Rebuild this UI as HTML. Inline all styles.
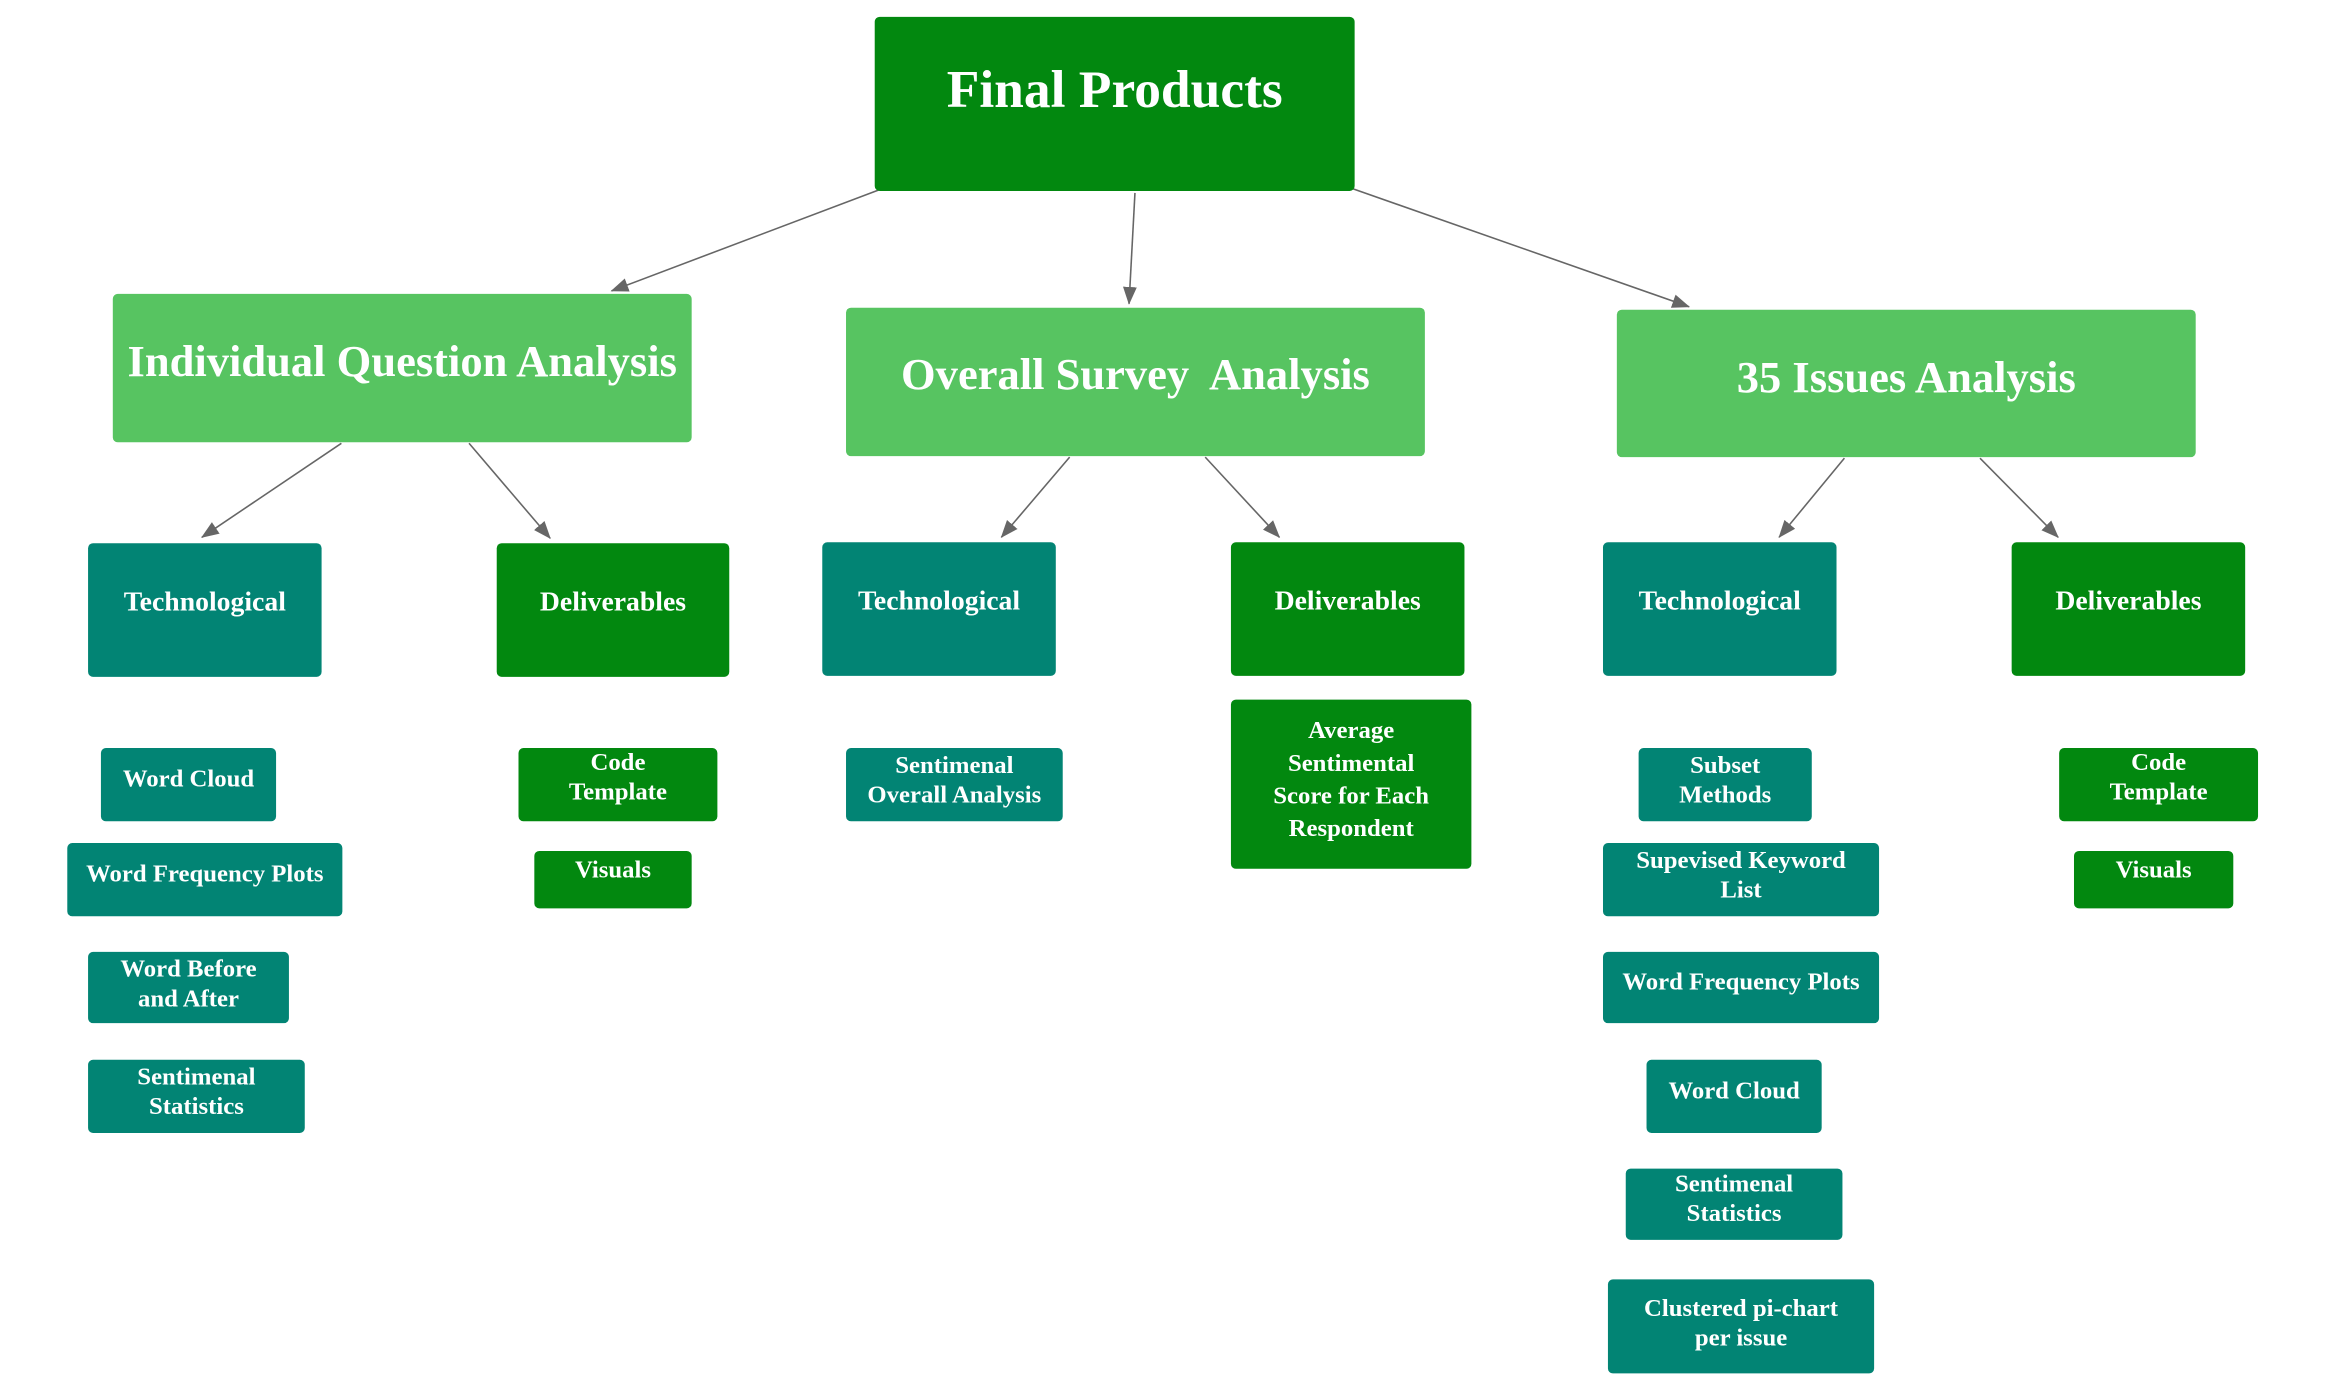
<!DOCTYPE html>
<html><head><meta charset="utf-8"><style>
body{margin:0;width:2328px;height:1398px;background:#fff;position:relative;overflow:hidden;font-family:"Liberation Serif",serif;font-weight:bold;color:#fff}
#w{position:absolute;left:0;top:0;width:2328px;height:1398px;transform:scale(0.9895);transform-origin:0 0}
.b{position:absolute;box-sizing:border-box;border-radius:5px;text-align:center;white-space:nowrap}
.dg{background:#02880f}.lg{background:#57c461}.tl{background:#028474}
.t{font-size:45px;line-height:50px}
.m{font-size:28px;line-height:30px;padding-top:45px}
.l{font-size:25px;line-height:30px}
svg{position:absolute;left:0;top:0}
</style></head><body><div id="w">
<svg width="2328" height="1398"><defs>
<marker id="a2" markerWidth="18" markerHeight="18" refX="17" refY="9" orient="auto" markerUnits="userSpaceOnUse" viewBox="0 0 18 18"><path d="M0,2 L18,9 L0,16 z" fill="#666"/></marker></defs>
<g stroke="#666" stroke-width="1.6" fill="none" marker-end="url(#a2)">
<line x1="888" y1="192" x2="618" y2="294"/>
<line x1="1147" y1="195" x2="1141" y2="307"/>
<line x1="1365" y1="190" x2="1707" y2="310"/>
<line x1="345" y1="448" x2="204" y2="543"/>
<line x1="474" y1="448" x2="556" y2="544"/>
<line x1="1081" y1="462" x2="1012" y2="543"/>
<line x1="1218" y1="462" x2="1293" y2="543"/>
<line x1="1864" y1="463" x2="1798" y2="543"/>
<line x1="2001" y1="463" x2="2080" y2="543"/>
</g></svg>
<div class="b dg" style="left:884px;top:17px;width:485px;height:176px;font-size:54px;line-height:60px;padding-top:43px">Final Products</div>
<div class="b lg t" style="left:114px;top:297px;width:585px;height:150px;padding-top:43px">Individual Question Analysis</div>
<div class="b lg t" style="left:855px;top:311px;width:585px;height:150px;padding-top:42px">Overall Survey&nbsp; Analysis</div>
<div class="b lg t" style="left:1634px;top:313px;width:585px;height:149px;padding-top:43px">35 Issues Analysis</div>
<div class="b tl m" style="left:89px;top:549px;width:236px;height:135px">Technological</div>
<div class="b dg m" style="left:502px;top:549px;width:235px;height:135px">Deliverables</div>
<div class="b tl m" style="left:831px;top:548px;width:236px;height:135px">Technological</div>
<div class="b dg m" style="left:1244px;top:548px;width:236px;height:135px">Deliverables</div>
<div class="b tl m" style="left:1620px;top:548px;width:236px;height:135px">Technological</div>
<div class="b dg m" style="left:2033px;top:548px;width:236px;height:135px">Deliverables</div>

<div class="b tl l" style="left:102px;top:756px;width:177px;height:74px;padding-top:17px">Word Cloud</div>
<div class="b tl l" style="left:68px;top:852px;width:278px;height:74px;padding-top:17px">Word Frequency Plots</div>
<div class="b tl l" style="left:89px;top:962px;width:203px;height:72px;padding-top:3px">Word Before<br>and After</div>
<div class="b tl l" style="left:89px;top:1071px;width:219px;height:74px;padding-top:3px">Sentimenal<br>Statistics</div>
<div class="b dg l" style="left:524px;top:756px;width:201px;height:74px;padding-top:0">Code<br>Template</div>
<div class="b dg l" style="left:540px;top:860px;width:159px;height:58px;padding-top:5px">Visuals</div>
<div class="b tl l" style="left:855px;top:756px;width:219px;height:74px;padding-top:3px">Sentimenal<br>Overall Analysis</div>
<div class="b dg l" style="left:1244px;top:707px;width:243px;height:171px;padding-top:15px;line-height:33px">Average<br>Sentimental<br>Score for Each<br>Respondent</div>
<div class="b tl l" style="left:1656px;top:756px;width:175px;height:74px;padding-top:3px">Subset<br>Methods</div>
<div class="b tl l" style="left:1620px;top:852px;width:279px;height:74px;padding-top:3px">Supevised Keyword<br>List</div>
<div class="b tl l" style="left:1620px;top:962px;width:279px;height:72px;padding-top:16px">Word Frequency Plots</div>
<div class="b tl l" style="left:1664px;top:1071px;width:177px;height:74px;padding-top:17px">Word Cloud</div>
<div class="b tl l" style="left:1643px;top:1181px;width:219px;height:72px;padding-top:1px">Sentimenal<br>Statistics</div>
<div class="b tl l" style="left:1625px;top:1293px;width:269px;height:95px;padding-top:15px">Clustered pi-chart<br>per issue</div>
<div class="b dg l" style="left:2081px;top:756px;width:201px;height:74px;padding-top:0">Code<br>Template</div>
<div class="b dg l" style="left:2096px;top:860px;width:161px;height:58px;padding-top:5px">Visuals</div>
</div></body></html>
